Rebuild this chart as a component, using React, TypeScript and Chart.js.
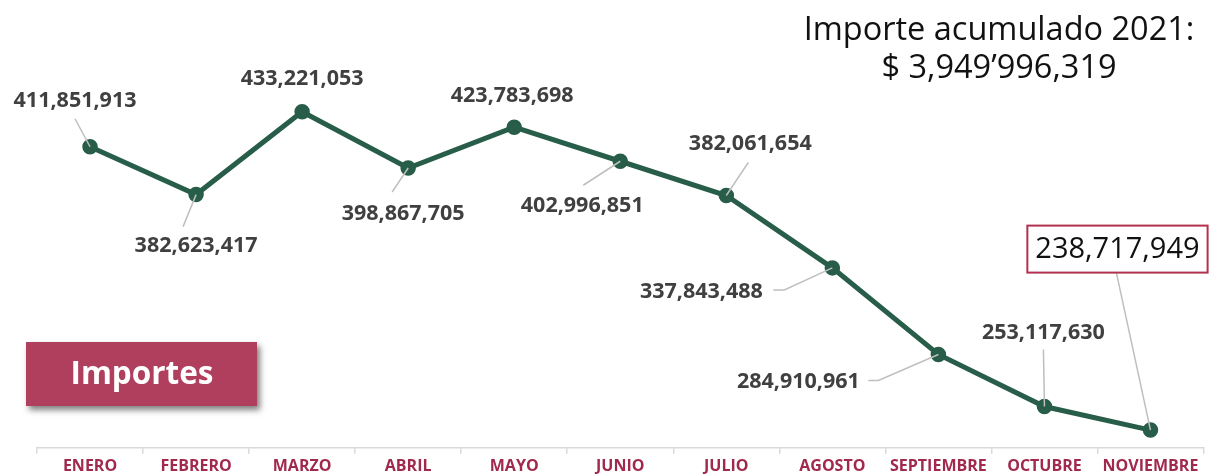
import React, { useEffect, useRef } from "react";
import { Chart, registerables } from "chart.js";

Chart.register(...registerables);

// ---- data ----
const months = [
  "ENERO",
  "FEBRERO",
  "MARZO",
  "ABRIL",
  "MAYO",
  "JUNIO",
  "JULIO",
  "AGOSTO",
  "SEPTIEMBRE",
  "OCTUBRE",
  "NOVIEMBRE",
];
const importes = [
  411851913, 382623417, 433221053, 398867705, 423783698, 402996851, 382061654,
  337843488, 284910961, 253117630, 238717949,
];
const summaryTitle = "Importe acumulado 2021:";
const summaryValue = "$ 3,949\u2019996,319";
const badgeText = "Importes";
const highlightIndex = 10;

// ---- label placement (relative to each point, in px) ----
const labelOffsets: [number, number][] = [
  [-15, -46],
  [0, 51],
  [0, -33],
  [-5, 46],
  [-2, -31],
  [-38, 45],
  [24, -52],
  [-131, 24],
  [-140, 27],
  [-1, -74],
  [-33, -181],
];
const leaderPaths: [number, number][][] = [
  [[0, 0], [-15, -28]],
  [[0, 0], [-13, 32]],
  [],
  [[0, 0], [-16, 24]],
  [],
  [[0, 0], [-37, 24]],
  [[0, 0], [22, -33]],
  [[0, 0], [-48, 22], [-59, 22]],
  [[0, 0], [-60, 26], [-70, 26]],
  [[0, 0], [-1, -57]],
  [[0, 0], [-34, -157]],
];

const GREEN = "#275d49";
const MAROON = "#a0294d";
const FONT = "'Open Sans', 'DejaVu Sans', sans-serif";

const fmt = (v: number) => v.toLocaleString("en-US");

const annotations = {
  id: "annotations",
  afterDatasetsDraw(chart: any) {
    const ctx: CanvasRenderingContext2D = chart.ctx;
    const meta = chart.getDatasetMeta(0);
    ctx.save();

    // leader lines
    ctx.strokeStyle = "#bfbfbf";
    ctx.lineWidth = 1.5;
    meta.data.forEach((pt: any, i: number) => {
      const path = leaderPaths[i];
      if (!path || path.length < 2) return;
      ctx.beginPath();
      path.forEach(([dx, dy], j) => {
        if (j === 0) ctx.moveTo(pt.x + dx, pt.y + dy);
        else ctx.lineTo(pt.x + dx, pt.y + dy);
      });
      ctx.stroke();
    });

    // data labels
    ctx.textAlign = "center";
    ctx.textBaseline = "middle";
    meta.data.forEach((pt: any, i: number) => {
      const [dx, dy] = labelOffsets[i];
      const cx = pt.x + dx;
      const cy = pt.y + dy;
      const text = fmt(importes[i]);
      if (i === highlightIndex) {
        ctx.font = `400 29px ${FONT}`;
        const w = ctx.measureText(text).width + 16;
        const h = 47;
        ctx.fillStyle = "#ffffff";
        ctx.fillRect(cx - w / 2, cy - h / 2, w, h);
        ctx.strokeStyle = "#b3304f";
        ctx.lineWidth = 2;
        ctx.strokeRect(cx - w / 2, cy - h / 2, w, h);
        ctx.fillStyle = "#111111";
        ctx.fillText(text, cx, cy + 1);
      } else {
        ctx.font = `700 21.5px ${FONT}`;
        ctx.fillStyle = "#404040";
        ctx.fillText(text, cx, cy);
      }
    });

    // summary text (top right)
    ctx.fillStyle = "#111111";
    ctx.font = `400 32.5px ${FONT}`;
    ctx.fillText(summaryTitle, 999, 31);
    ctx.fillText(summaryValue, 999, 69);

    // badge
    ctx.save();
    ctx.shadowColor = "rgba(0,0,0,0.5)";
    ctx.shadowBlur = 6;
    ctx.shadowOffsetX = 3;
    ctx.shadowOffsetY = 4;
    ctx.fillStyle = "#b03f5e";
    ctx.fillRect(26, 342, 231, 64);
    ctx.restore();
    ctx.fillStyle = "#ffffff";
    ctx.font = `700 31.5px ${FONT}`;
    ctx.fillText(badgeText, 142, 375);

    ctx.restore();
  },
};

export default function App() {
  const canvasRef = useRef<HTMLCanvasElement | null>(null);

  useEffect(() => {
    document.body.style.margin = "0";
    const canvas = canvasRef.current;
    if (!canvas) return;
    const chart = new Chart(canvas, {
      type: "line",
      data: {
        labels: months,
        datasets: [
          {
            data: importes,
            borderColor: GREEN,
            backgroundColor: GREEN,
            borderWidth: 5,
            pointRadius: 7,
            pointBorderWidth: 1.5,
            pointBackgroundColor: GREEN,
            pointBorderColor: GREEN,
            tension: 0,
            clip: false as any,
          },
        ],
      },
      options: {
        responsive: false,
        animation: false,
        layout: { padding: { left: 37, right: 5, top: 12, bottom: -4 } },
        plugins: {
          legend: { display: false },
          tooltip: { enabled: false },
          title: { display: false },
        },
        scales: {
          x: {
            type: "category",
            offset: true,
            grid: {
              offset: true,
              drawOnChartArea: false,
              drawTicks: true,
              tickLength: 6,
              color: "#d9d9d9",
              lineWidth: 1.5,
            },
            border: { display: true, color: "#d9d9d9", width: 1.5 },
            ticks: {
              color: MAROON,
              font: { family: FONT, size: 16, weight: "bold" },
              padding: 3,
              maxRotation: 0,
              autoSkip: false,
            },
          },
          y: {
            display: false,
            min: 227.9e6,
            max: 494.2e6,
          },
        },
      },
      plugins: [annotations],
    });
    return () => chart.destroy();
  }, []);

  return (
    <div style={{ position: "fixed", left: 0, top: 0, width: 1212, height: 475, background: "#fff" }}>
      <canvas ref={canvasRef} width={1212} height={475} style={{ display: "block" }} />
    </div>
  );
}
